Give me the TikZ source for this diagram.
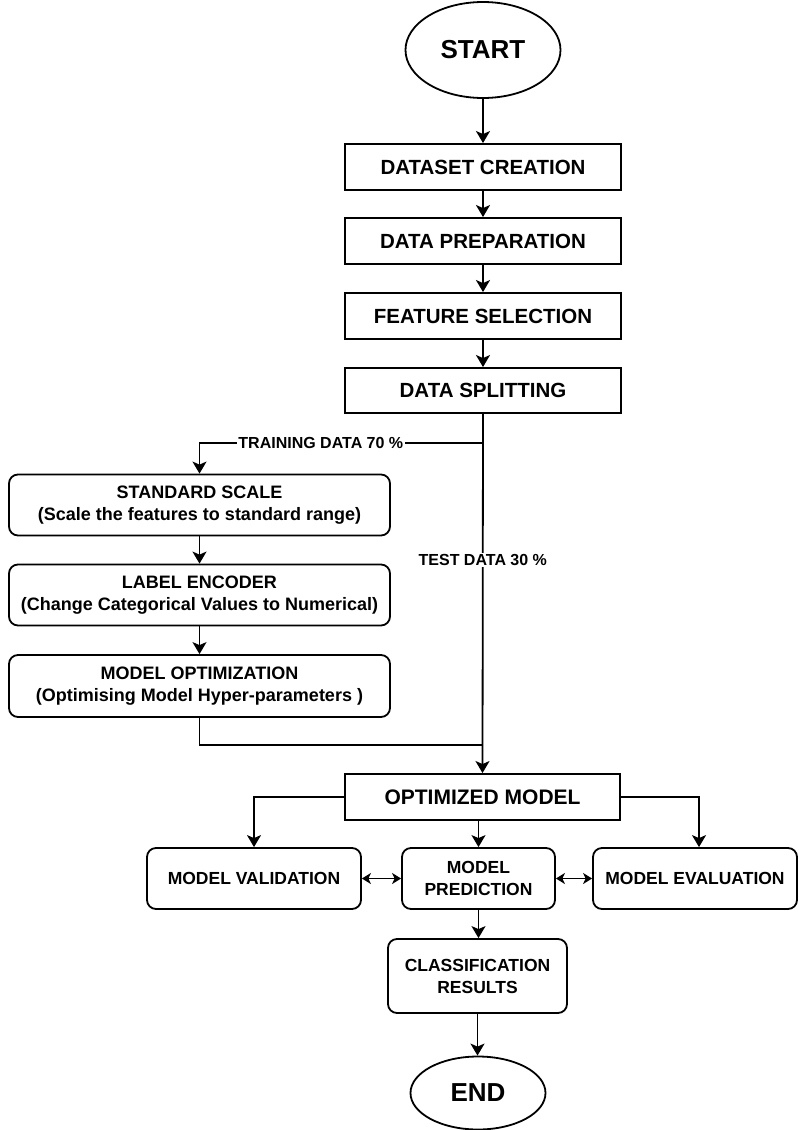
\documentclass[tikz,border=0pt]{standalone}
\usepackage{fontspec}
\setmainfont{Liberation Sans}
\usetikzlibrary{shapes.geometric,arrows.meta}
\begin{document}
\begin{tikzpicture}[x=1pt,y=-1pt,
  every node/.style={inner sep=0pt, text=black},
  term/.style={draw, ellipse, line width=1.8pt, font=\bfseries\fontsize{26}{30}\selectfont},
  mainbox/.style={draw, rectangle, line width=1.9pt, minimum width=276pt, minimum height=46pt, font=\bfseries\fontsize{20.5}{24}\selectfont},
  sidebox/.style={draw, rectangle, rounded corners=9pt, line width=1.8pt, minimum width=381pt, minimum height=61pt, align=center, font=\bfseries\fontsize{18}{22}\selectfont},
  lowbox/.style={draw, rectangle, rounded corners=9pt, line width=1.8pt, minimum height=61pt, align=center, font=\bfseries\fontsize{17.5}{22}\selectfont},
  lbl/.style={fill=white, inner sep=1.5pt, font=\bfseries\fontsize{16}{18}\selectfont},
  arr/.style={line width=1.8pt, -{Stealth[length=12pt,width=14pt,inset=3pt]}},
  darr/.style={line width=1.8pt, {Stealth[length=9pt,width=11pt,inset=2.5pt]}-{Stealth[length=9pt,width=11pt,inset=2.5pt]}}
]
\useasboundingbox (0,0) rectangle (798,1130);
\fill[white] (0,0) rectangle (798,1130);

\node[term, minimum width=155pt, minimum height=96pt] (start) at (483,50) {START};
\node[mainbox] (ds) at (483,167) {DATASET CREATION};
\node[mainbox] (dp) at (483,241) {DATA PREPARATION};
\node[mainbox] (fs) at (483,316) {FEATURE SELECTION};
\node[mainbox, minimum height=45pt] (split) at (483,390.5) {DATA SPLITTING};

\node[sidebox] (ss) at (199.5,505) {STANDARD SCALE\\(Scale the features to standard range)};
\node[sidebox] (le) at (199.5,595) {LABEL ENCODER\\(Change Categorical Values to Numerical)};
\node[sidebox, minimum height=62pt] (mo) at (199.5,686) {MODEL OPTIMIZATION\\(Optimising Model Hyper-parameters )};

\node[mainbox, minimum width=275pt, font=\bfseries\fontsize{21}{24}\selectfont] (om) at (482.5,797) {OPTIMIZED MODEL};
\node[lowbox, minimum width=214pt] (mv) at (254,878.5) {MODEL VALIDATION};
\node[lowbox, minimum width=153pt] (mp) at (478.5,878.5) {MODEL\\PREDICTION};
\node[lowbox, minimum width=204pt] (me) at (695,878.5) {MODEL EVALUATION};
\node[lowbox, minimum width=179pt, minimum height=74pt] (cr) at (477.5,976) {CLASSIFICATION\\RESULTS};
\node[term, minimum width=135pt, minimum height=73pt] (end) at (478,1093) {END};

\coordinate (t) at (483,443);
\coordinate (j) at (483,745);

\draw[arr] (start) -- (ds);
\draw[arr] (ds) -- (dp);
\draw[arr] (dp) -- (fs);
\draw[arr] (fs) -- (split);
\draw[arr] (split.south) -- node[lbl, pos=0.407] {TEST DATA 30 \%} (om.north);
\draw[arr] (t) -| node[lbl, pos=0.286] {TRAINING DATA 70 \%} (ss.north);
\draw[arr] (ss) -- (le);
\draw[arr] (le) -- (mo);
\draw[line width=1.8pt] (mo.south) |- (j);
\draw[arr] (om.west) -| (mv.north);
\draw[arr] (om.east) -| ([xshift=4pt]me.north);
\draw[arr] (mp.north |- om.south) -- (mp.north);
\draw[darr] (mv) -- (mp);
\draw[darr] (mp) -- (me);
\draw[arr] (mp.south) -- (mp.south |- cr.north);
\draw[arr] (cr.south) -- (cr.south |- end.north);
\end{tikzpicture}
\end{document}
